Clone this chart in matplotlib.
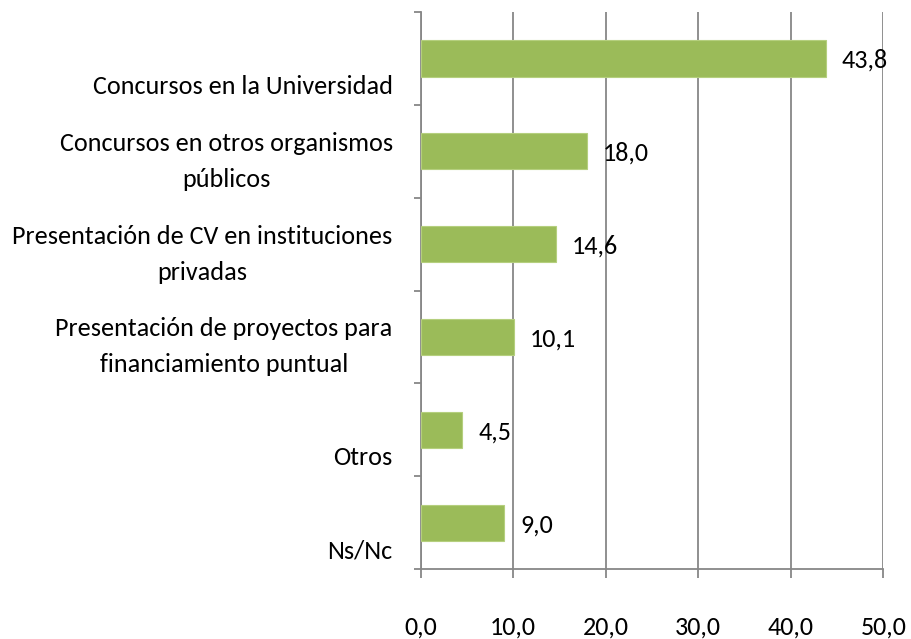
import matplotlib
matplotlib.use("Agg")
import matplotlib.pyplot as plt
from matplotlib import font_manager as fm
from matplotlib.ticker import FixedLocator, FuncFormatter
import matplotlib.transforms as mtransforms

categories = [
    "Concursos en la Universidad",
    "Concursos en otros organismos\npúblicos",
    "Presentación de CV en instituciones\nprivadas",
    "Presentación de proyectos para\nfinanciamiento puntual",
    "Otros",
    "Ns/Nc",
]
values = [43.8, 18.0, 14.6, 10.1, 4.5, 9.0]
xticks = [0, 10, 20, 30, 40, 50]

available = {f.name for f in fm.fontManager.ttflist}
chosen = 'DejaVu Sans'
for cand in ['Carlito', 'Liberation Sans Narrow', 'PT Sans Narrow', 'Open Sans Condensed',
             'Roboto Condensed', 'Archivo Narrow', 'Open Sans']:
    if cand in available:
        chosen = cand
        break
plt.rcParams['font.family'] = [chosen, 'DejaVu Sans']
FS = 18.8

fig = plt.figure(figsize=(9.12, 6.39), dpi=100)
ax = fig.add_axes([0.4613, 0.1095, 0.9686 - 0.4613, 0.9812 - 0.1095])

n = len(categories)
ypos = list(range(n))
ax.barh(ypos, values, height=0.39, color="#9BBB59", edgecolor="#B5CF7E", linewidth=0.8, zorder=3)
ax.set_ylim(n - 0.5, -0.5)
ax.set_xlim(0, 50)

grid_color = "#878787"
ax.set_xticks(xticks)
ax.xaxis.set_major_formatter(FuncFormatter(lambda v, p: f"{v:.1f}".replace(".", ",")))
ax.tick_params(axis='x', length=6.5, width=1.3, color=grid_color, pad=27, labelsize=FS)
ax.grid(axis='x', color=grid_color, linewidth=1.3, zorder=0)

ax.set_yticks([])
ax.yaxis.set_minor_locator(FixedLocator([i - 0.5 for i in range(n + 1)]))
ax.tick_params(axis='y', which='minor', length=5, width=1.3, color=grid_color)

for s in ['top', 'right']:
    ax.spines[s].set_visible(False)
for s in ['left', 'bottom']:
    ax.spines[s].set_color(grid_color)
    ax.spines[s].set_linewidth(1.3)

# category labels (bottom aligned within band)
trans = mtransforms.blended_transform_factory(ax.transAxes, ax.transData)
off = mtransforms.ScaledTranslation(-28 / 100, 11 / 100, fig.dpi_scale_trans)
for i, lab in enumerate(categories):
    ax.text(0, i + 0.5, lab, transform=trans + off, ha='right', va='baseline',
            multialignment='center', fontsize=FS, linespacing=1.68)

# data labels
for i, v in enumerate(values):
    ax.annotate(f"{v:.1f}".replace(".", ","), (v, i), xytext=(11.5, -1.5), textcoords='offset points',
                ha='left', va='center', fontsize=FS, zorder=4)

fig.savefig("out.png", dpi=100)
